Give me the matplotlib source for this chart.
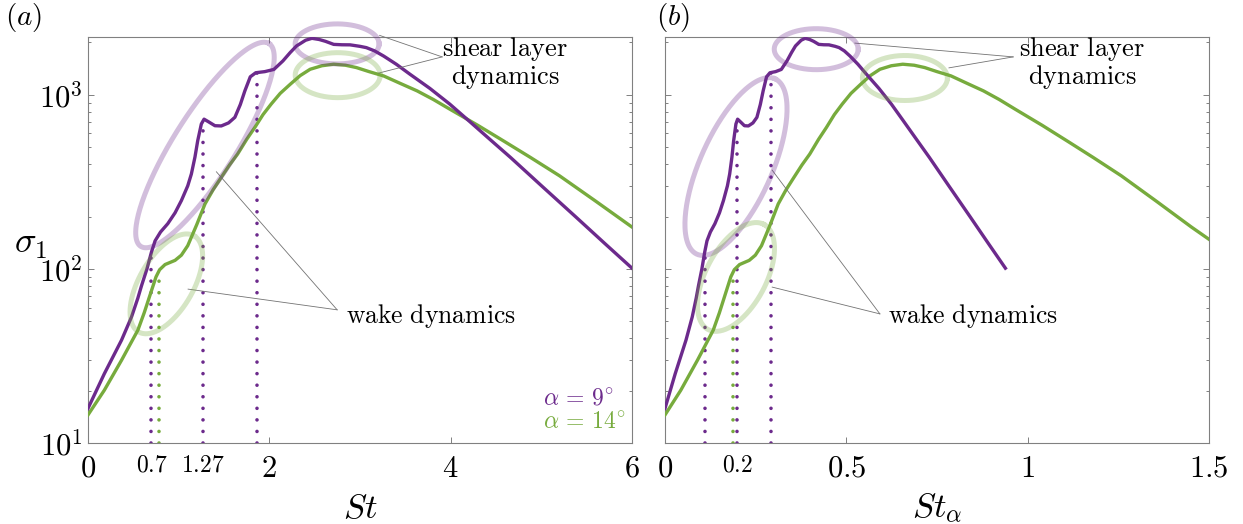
import numpy as np
import matplotlib
matplotlib.use("Agg")
import matplotlib.pyplot as plt
from matplotlib.ticker import LogLocator, NullFormatter
from matplotlib.transforms import blended_transform_factory

plt.rcParams['mathtext.fontset'] = 'cm'
plt.rcParams['font.family'] = 'serif'

PURPLE = '#6c2a8c'
GREEN = '#77ab3d'

# leading singular value sigma_1 against Strouhal number, alpha = 9 deg
st_9 = [0.00, 0.18, 0.37, 0.48, 0.55, 0.59, 0.65, 0.70, 0.74, 0.80, 0.88, 0.96,
        1.03, 1.10, 1.14, 1.18, 1.21, 1.25, 1.28, 1.33, 1.40, 1.47, 1.55, 1.62,
        1.68, 1.73, 1.79, 1.85, 1.95, 2.05, 2.15, 2.23, 2.30, 2.40, 2.47, 2.55,
        2.62, 2.71, 2.80, 2.89, 3.00, 3.07, 3.16, 3.26, 3.40, 3.55, 3.77, 3.99,
        4.20, 4.45, 4.66, 5.00, 5.38, 5.70, 6.00]
sigma_9 = [15.8, 25, 39, 53, 68, 80, 100, 125, 145, 163, 182, 210,
           247, 300, 351, 440, 545, 680, 725, 700, 665, 663, 690, 743,
           880, 1054, 1270, 1340, 1360, 1400, 1567, 1750, 1910, 2060, 2113, 2080,
           2030, 1950, 1940, 1938, 1900, 1868, 1790, 1672, 1500, 1315, 1090, 885,
           710, 545, 437, 301, 199, 140, 101]

# same for alpha = 14 deg
st_14 = [0.00, 0.18, 0.37, 0.55, 0.62, 0.70, 0.75, 0.79, 0.85, 0.96, 1.03, 1.10,
         1.20, 1.29, 1.38, 1.47, 1.56, 1.65, 1.75, 1.84, 1.93, 2.02, 2.12, 2.23,
         2.34, 2.45, 2.58, 2.71, 2.84, 2.96, 3.10, 3.26, 3.45, 3.63, 3.81, 3.99,
         4.30, 4.60, 4.88, 5.20, 5.60, 6.00, 6.20]
sigma_14 = [14.5, 20.1, 29.9, 44.5, 56, 75, 90, 99, 106, 112, 120, 136,
            180, 236, 285, 336, 395, 457, 555, 650, 770, 885, 1020, 1150,
            1290, 1403, 1470, 1500, 1480, 1435, 1360, 1285, 1160, 1054, 940, 828,
            668, 537, 437, 343, 245, 174, 148]

alphas = [9, 14]
peaks_9 = [0.7, 1.27, 1.86]
peaks_14 = [0.78]
marked_a = ['0.7', '1.27']
marked_b = ['0.2']

fig = plt.figure(figsize=(12.43, 5.24), dpi=100)
W, H = 1243, 524
ax_a = fig.add_axes([88 / W, 81 / H, 544 / W, 406 / H])
ax_b = fig.add_axes([665 / W, 81 / H, 544 / W, 406 / H])


def ring(ax, cx, cy, a, b, ang, color):
    # ellipse outline in pixel units, centred at axes fraction (cx, cy)
    bb = ax.get_window_extent()
    t = np.linspace(0, 2 * np.pi, 240)
    th = np.radians(ang)
    x = a * np.cos(t) * np.cos(th) - b * np.sin(t) * np.sin(th)
    y = a * np.cos(t) * np.sin(th) + b * np.sin(t) * np.cos(th)
    ax.plot(cx + x / bb.width, cy + y / bb.height, transform=ax.transAxes,
            color=color, alpha=0.3, lw=3.6, clip_on=False, zorder=5)


def pointer(ax, pts):
    for (x0, y0), (x1, y1) in zip(pts[:-1], pts[1:]):
        ax.plot([x0, x1], [y0, y1], transform=ax.transAxes, color='0.45',
                lw=0.6, clip_on=False, zorder=4)


def level(st, sig, x):
    return 10 ** np.interp(x, st, np.log10(sig))


def dotted(ax, x, top, color):
    ax.plot([x, x], [10, top], color=color, lw=2.6, ls=(0, (0.001, 3.2)),
            dash_capstyle='round', zorder=2)


def style(ax, xmax):
    ax.set_yscale('log')
    ax.set_ylim(10, 2150)
    ax.set_xlim(0, xmax)
    ax.yaxis.set_minor_locator(LogLocator(base=10, subs=np.arange(2, 10)))
    ax.yaxis.set_minor_formatter(NullFormatter())
    ax.tick_params(which='both', direction='in', top=True, right=True,
                   color='0.5', width=0.7)
    ax.tick_params(which='major', length=4)
    ax.tick_params(which='minor', length=2.5)
    ax.tick_params(axis='x', pad=7, labelsize=22)
    ax.tick_params(axis='y', pad=4, labelsize=22)
    for s in ax.spines.values():
        s.set_color('0.5')
        s.set_linewidth(0.8)


# (a) against St
s9 = np.sin(np.radians(alphas[0]))
s14 = np.sin(np.radians(alphas[1]))

style(ax_a, 6)
for p in peaks_9:
    dotted(ax_a, p, level(st_9, sigma_9, p), PURPLE)
for p in peaks_14:
    dotted(ax_a, p, level(st_14, sigma_14, p), GREEN)
ax_a.plot(st_14, sigma_14, color=GREEN, lw=2.4, zorder=3)
ax_a.plot(st_9, sigma_9, color=PURPLE, lw=2.4, zorder=3)
ax_a.set_xticks([0, 2, 4, 6])
ax_a.set_xticklabels(['$0$', '$2$', '$4$', '$6$'])
ax_a.set_yticks([10, 100, 1000])
ax_a.set_yticklabels(['$10^1$', '$10^2$', '$10^3$'])
ax_a.set_xlabel('$St$', fontsize=25, va='center')
ax_a.xaxis.set_label_coords(0.5, -0.16)
ax_a.set_ylabel(r'$\sigma_1$', fontsize=26, rotation=0, va='center', ha='center')
ax_a.yaxis.set_label_coords(-0.105, 0.49)

tr = blended_transform_factory(ax_a.transData, ax_a.transAxes)
for p, lab in zip(peaks_9[:2], marked_a):
    ax_a.text(p, -0.025, f'${lab}$', transform=tr, ha='center', va='top', fontsize=17)

ring(ax_a, 0.215, 0.734, 120, 31, 57.7, PURPLE)
ring(ax_a, 0.458, 0.983, 42, 20, 0, PURPLE)
ring(ax_a, 0.459, 0.906, 42.5, 22.5, 0, GREEN)
ring(ax_a, 0.144, 0.392, 55.5, 27, 60, GREEN)

pointer(ax_a, [(0.536, 1.004), (0.651, 0.951), (0.534, 0.911)])
pointer(ax_a, [(0.236, 0.668), (0.458, 0.328), (0.184, 0.379)])
ax_a.text(0.767, 0.935, r'$\mathrm{shear\ layer}$' + '\n' + r'$\mathrm{dynamics}$',
          transform=ax_a.transAxes, ha='center', va='center', fontsize=19,
          linespacing=1.0)
ax_a.text(0.474, 0.313, r'$\mathrm{wake\ dynamics}$', transform=ax_a.transAxes,
          ha='left', va='center', fontsize=18.5)
ax_a.text(0.836, 0.111, r'$\alpha\,=\,9^{\!\circ}$', transform=ax_a.transAxes,
          ha='left', va='center', fontsize=17, color=PURPLE)
ax_a.text(0.836, 0.052, r'$\alpha\,=\,14^{\!\circ}$', transform=ax_a.transAxes,
          ha='left', va='center', fontsize=17, color=GREEN)

# (b) against St_alpha = St sin(alpha)
style(ax_b, 1.5)
for p in peaks_9:
    dotted(ax_b, p * s9, level(st_9, sigma_9, p), PURPLE)
for p in peaks_14:
    dotted(ax_b, p * s14, level(st_14, sigma_14, p), GREEN)
ax_b.plot(np.array(st_14) * s14, sigma_14, color=GREEN, lw=2.4, zorder=3)
ax_b.plot(np.array(st_9) * s9, sigma_9, color=PURPLE, lw=2.4, zorder=3)
ax_b.set_xticks([0, 0.5, 1, 1.5])
ax_b.set_xticklabels(['$0$', '$0.5$', '$1$', '$1.5$'])
ax_b.set_yticks([10, 100, 1000])
ax_b.set_yticklabels([])
ax_b.set_xlabel(r'$St_\alpha$', fontsize=25, va='center')
ax_b.xaxis.set_label_coords(0.5, -0.16)

tr = blended_transform_factory(ax_b.transData, ax_b.transAxes)
ax_b.text(peaks_9[1] * s9, -0.025, f'${marked_b[0]}$', transform=tr,
          ha='center', va='top', fontsize=17)

ring(ax_b, 0.278, 0.970, 42, 20.5, 0, PURPLE)
ring(ax_b, 0.441, 0.899, 42.5, 22.5, 0, GREEN)
ring(ax_b, 0.1305, 0.681, 96, 36, 66, PURPLE)
ring(ax_b, 0.1305, 0.409, 59.5, 30, 62, GREEN)

pointer(ax_b, [(0.349, 0.985), (0.640, 0.951), (0.522, 0.924)])
pointer(ax_b, [(0.197, 0.672), (0.395, 0.318), (0.197, 0.384)])
ax_b.text(0.767, 0.935, r'$\mathrm{shear\ layer}$' + '\n' + r'$\mathrm{dynamics}$',
          transform=ax_b.transAxes, ha='center', va='center', fontsize=19,
          linespacing=1.0)
ax_b.text(0.41, 0.313, r'$\mathrm{wake\ dynamics}$', transform=ax_b.transAxes,
          ha='left', va='center', fontsize=18.5)

fig.text(24 / W, 1 - 17 / H, '$(a)$', ha='center', va='center', fontsize=21)
fig.text(673 / W, 1 - 17 / H, '$(b)$', ha='center', va='center', fontsize=21)

fig.savefig('out.png', dpi=100)
